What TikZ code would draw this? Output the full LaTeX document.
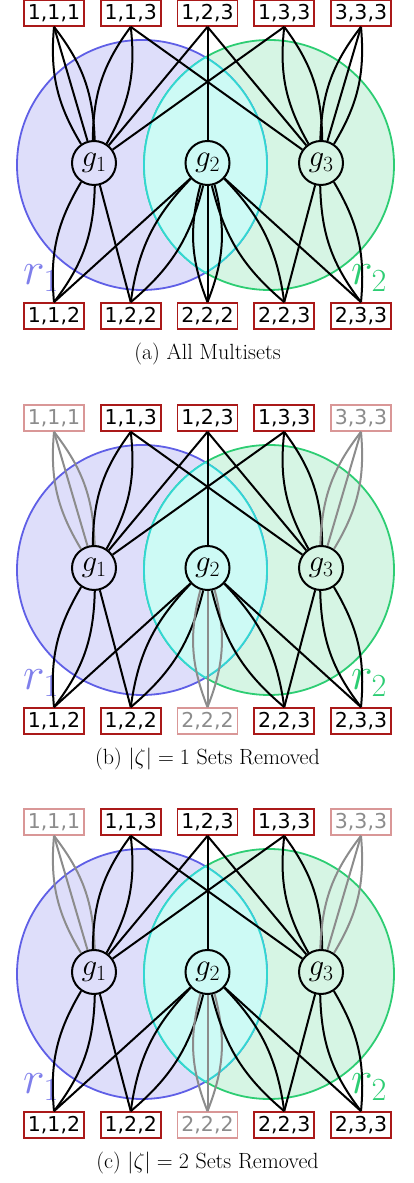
\documentclass[tikz,border=0pt]{standalone}
\usepackage{fix-cm}
\usepackage{amsmath}
\usepackage{fontspec}
\newfontfamily\tuplefont{DejaVu Sans}
\usepackage{tikz}

\definecolor{setred}{RGB}{170,25,25}
\definecolor{blueline}{RGB}{95,95,230}
\definecolor{bluefill}{RGB}{222,222,250}
\definecolor{greenline}{RGB}{45,205,115}
\definecolor{greenfill}{RGB}{214,245,228}
\definecolor{cyanline}{RGB}{50,215,210}
\definecolor{cyanfill}{RGB}{205,250,245}

\begin{document}
\begin{tikzpicture}[
    x = 1pt, y = 1pt,
    multiset/.style = {draw = setred,
      fill = white,
      line width = 1.7pt,
      minimum width = 60pt,
      minimum height = 26pt,
      inner sep = 0pt,
      font = \tuplefont\fontsize{20.5}{20.5}\selectfont},
    removed/.style = {multiset,
      draw = setred!\fd!white,
      text = black!\fd!white},
    group/.style = {draw, circle,
      line width = 2pt,
      minimum size = {44pt},
      inner sep = 0pt,
      font = \fontsize{31}{31}\selectfont},
    link/.style = {line width = 2pt},
    faded/.style = {link, draw = black!\fd!white},
    rim/.style = {line width = 1.8pt},
    region/.style = {font = \fontsize{46}{46}\selectfont},
    caption/.style = {font = \fontsize{22}{24}\selectfont},
    ]

    \useasboundingbox (0, 0) rectangle (413, 1183);

    \foreach \gy/\pn/\capt/\fd in {1020/a/{All Multisets}/100,
      615/b/{$|\zeta| = 1$ Sets Removed}/45,
      211/c/{$|\zeta| = 2$ Sets Removed}/45} {
    \begin{scope}[shift = {(0, \gy)}]

    % regions r1 and r2
    \coordinate (c1-\pn) at (142, -2);
    \coordinate (c2-\pn) at (269, -2);
    \fill [bluefill] (c1-\pn) circle (125);
    \fill [greenfill] (c2-\pn) circle (125);
    \draw [rim, blueline] (c1-\pn) circle (125);
    \draw [rim, greenline] (c2-\pn) circle (125);
    \begin{scope}
      \clip (c1-\pn) circle (125);
      \fill [cyanfill] (c2-\pn) circle (125);
      \draw [rim, cyanline] (c2-\pn) circle (125);
    \end{scope}
    \begin{scope}
      \clip (c2-\pn) circle (125);
      \draw [rim, cyanline] (c1-\pn) circle (125);
    \end{scope}

    \node at (41, -115)
    [region, text = blueline!80!white, name = r1-\pn] {$r_1$};
    \node at (369, -115)
    [region, text = greenline, name = r2-\pn] {$r_2$};

    \node at (54, 150) [removed, name = m111-\pn] {1,1,1};
    \node at (130.75, 150) [multiset, name = m113-\pn] {1,1,3};
    \node at (207.5, 150) [multiset, name = m123-\pn] {1,2,3};
    \node at (284.25, 150) [multiset, name = m133-\pn] {1,3,3};
    \node at (361, 150) [removed, name = m333-\pn] {3,3,3};

    \node at (94, 0) [group, name = g1-\pn] {$g_1$};
    \node at (207.5, 0) [group, name = g2-\pn] {$g_2$};
    \node at (321, 0) [group, name = g3-\pn] {$g_3$};

    \node at (54, -153) [multiset, name = m112-\pn] {1,1,2};
    \node at (130.75, -153) [multiset, name = m122-\pn] {1,2,2};
    \node at (207.5, -153) [removed, name = m222-\pn] {2,2,2};
    \node at (284.25, -153) [multiset, name = m223-\pn] {2,2,3};
    \node at (361, -153) [multiset, name = m233-\pn] {2,3,3};

    \node at (207.5, -191) [caption, name = cap-\pn] {(\pn) \capt};

    % top row
    \draw [faded] (m111-\pn.south) to (g1-\pn);
    \draw [faded] (m111-\pn.south) to [bend left = 18] (g1-\pn);
    \draw [faded] (m111-\pn.south) to [bend right = 18] (g1-\pn);
    \draw [link] (m113-\pn.south) to [bend left = 18] (g1-\pn);
    \draw [link] (m113-\pn.south) to [bend right = 18] (g1-\pn);
    \draw [link] (m113-\pn.south) to (g3-\pn);
    \draw [link] (m123-\pn.south) to (g1-\pn);
    \draw [link] (m123-\pn.south) to (g2-\pn);
    \draw [link] (m123-\pn.south) to (g3-\pn);
    \draw [link] (m133-\pn.south) to (g1-\pn);
    \draw [link] (m133-\pn.south) to [bend left = 18] (g3-\pn);
    \draw [link] (m133-\pn.south) to [bend right = 18] (g3-\pn);
    \draw [faded] (m333-\pn.south) to (g3-\pn);
    \draw [faded] (m333-\pn.south) to [bend left = 18] (g3-\pn);
    \draw [faded] (m333-\pn.south) to [bend right = 18] (g3-\pn);

    % bottom row
    \draw [link] (m112-\pn.north) to [bend left = 18] (g1-\pn);
    \draw [link] (m112-\pn.north) to [bend right = 18] (g1-\pn);
    \draw [link] (m112-\pn.north) to (g2-\pn);
    \draw [link] (m122-\pn.north) to (g1-\pn);
    \draw [link] (m122-\pn.north) to [bend left = 18] (g2-\pn);
    \draw [link] (m122-\pn.north) to [bend right = 18] (g2-\pn);
    \draw [faded] (m222-\pn.north) to (g2-\pn);
    \draw [faded] (m222-\pn.north) to [bend left = 18] (g2-\pn);
    \draw [faded] (m222-\pn.north) to [bend right = 18] (g2-\pn);
    \draw [link] (m223-\pn.north) to [bend left = 18] (g2-\pn);
    \draw [link] (m223-\pn.north) to [bend right = 18] (g2-\pn);
    \draw [link] (m223-\pn.north) to (g3-\pn);
    \draw [link] (m233-\pn.north) to (g2-\pn);
    \draw [link] (m233-\pn.north) to [bend left = 18] (g3-\pn);
    \draw [link] (m233-\pn.north) to [bend right = 18] (g3-\pn);

    \end{scope}
    }
  \end{tikzpicture}
\end{document}
